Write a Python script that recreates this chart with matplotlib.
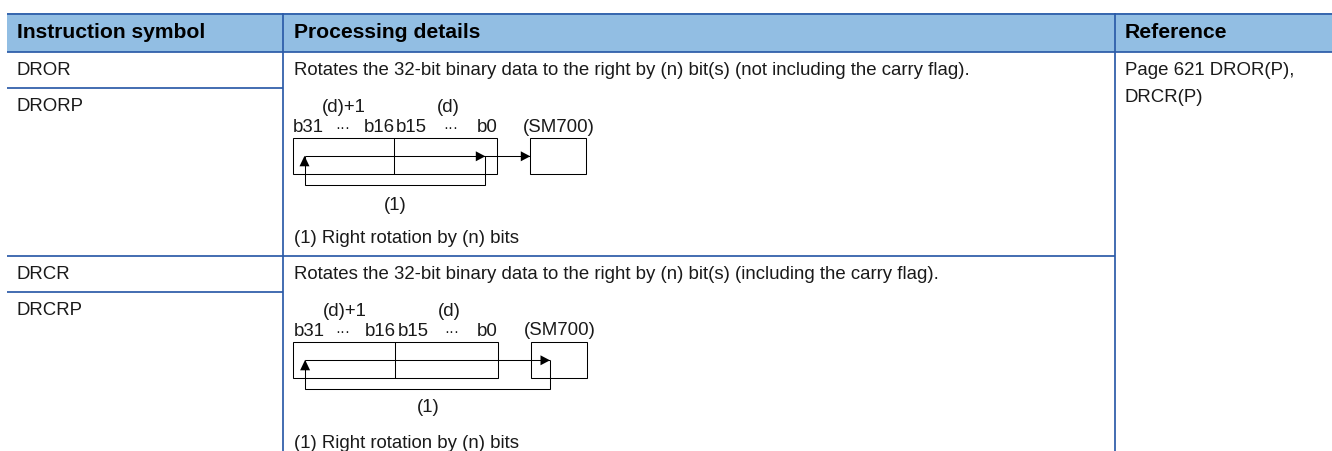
import matplotlib
matplotlib.use("Agg")
import matplotlib.pyplot as plt
from matplotlib.patches import Rectangle, Polygon

headers = ["Instruction symbol", "Processing details", "Reference"]
symbols = ["DROR", "DRORP", "DRCR", "DRCRP"]
details = ["Rotates the 32-bit binary data to the right by (n) bit(s) (not including the carry flag).",
           "Rotates the 32-bit binary data to the right by (n) bit(s) (including the carry flag)."]
references = ["Page 621 DROR(P),", "DRCR(P)"]
DOTS = "\u00b7\u00b7\u00b7"
word_labels = ["(d)+1", "(d)", "b31", DOTS, "b16", "b15", DOTS, "b0", "(SM700)"]
note = "(1) Right rotation by (n) bits"
callout = "(1)"

BLUE = "#2B5BA8"
HEAD = "#92BEE3"
FS = 13.4
INK = "#1a1a1a"

plt.rcParams["font.family"] = ["Liberation Sans", "DejaVu Sans"]
fig = plt.figure(figsize=(13.32, 4.51), dpi=100)
ax = fig.add_axes([0, 0, 1, 1])
ax.set_xlim(0, 1332)
ax.set_ylim(451, 0)
ax.axis("off")

ax.add_patch(Rectangle((7, 13), 1325, 39, fc=HEAD, ec="none", zorder=0))
for x0, x1, y in [(7, 1332, 13.5), (7, 1332, 52), (7, 283, 88), (7, 1115, 256), (7, 283, 292)]:
    ax.plot([x0, x1], [y, y], color=BLUE, lw=1.25, solid_capstyle="butt", zorder=1)
for x in (283, 1115):
    ax.plot([x, x], [13, 451], color=BLUE, lw=1.25, solid_capstyle="butt", zorder=1)


def txt(x, y, s, **kw):
    kw.setdefault("fontsize", FS)
    kw.setdefault("color", INK)
    ax.text(x, y, s, va="baseline", ha="left", **kw)


for x, s in zip((17, 294, 1125), headers):
    txt(x, 38, s, fontweight="bold", fontsize=15.2, color="black")
for y, s in zip((75, 111, 279, 315), symbols):
    txt(17, y, s)
for y, s in zip((75, 279), details):
    txt(294, y, s)
for y, s in zip((75, 102), references):
    txt(1125, y, s)


def line(xs, ys):
    ax.plot(xs, ys, color="black", lw=0.75, solid_capstyle="butt", solid_joinstyle="miter", zorder=3)


def head(pts):
    ax.add_patch(Polygon(pts, closed=True, fc="black", ec="none", zorder=4))


def diagram(left, top, tiers, small_left, ret_x, ret_y, end_x, tip_right, word_x, call_x, call_y, note_y):
    ax.add_patch(Rectangle((left, top), 204.6, 36, fc="none", ec="black", lw=0.75, zorder=3))
    line([left + 101.6, left + 101.6], [top, top + 36])
    ax.add_patch(Rectangle((small_left, top), 56, 36, fc="none", ec="black", lw=0.75, zorder=3))
    y = top + 18
    start = left + 11.8
    line([start, end_x], [y, y])
    line([ret_x, ret_x, start, start], [y, ret_y, ret_y, y])
    head([(start, y - 0.5), (start - 5, y + 10), (start + 5, y + 10)])
    head([(ret_x, y), (ret_x - 9.5, y - 5), (ret_x - 9.5, y + 5)])
    if tip_right:
        head([(end_x, y), (end_x - 9.5, y - 5), (end_x - 9.5, y + 5)])
    for x, s, yy in zip(word_x, word_labels, tiers):
        txt(x, yy, s, fontsize=11 if s == DOTS else FS)
    txt(call_x, call_y, callout)
    txt(294, note_y, note)


diagram(292.7, 138.3, [111.7, 111.7, 132.5, 132, 132.5, 132.5, 132, 132.5, 132], 530.3, 485.3, 185.3, 530.3, True,
        [321.7, 437, 293, 335, 364, 396, 443.5, 476.7, 522.7], 384.3, 210, 243.3)
diagram(293.3, 342.3, [315.7, 315.7, 336, 336, 336, 336, 336, 336, 335], 531.3, 550, 389, 550, False,
        [322.7, 438, 293.3, 335.2, 364.3, 397.5, 444, 477, 524], 417.3, 412.3, 448.3)

fig.savefig("out.png", dpi=100)
